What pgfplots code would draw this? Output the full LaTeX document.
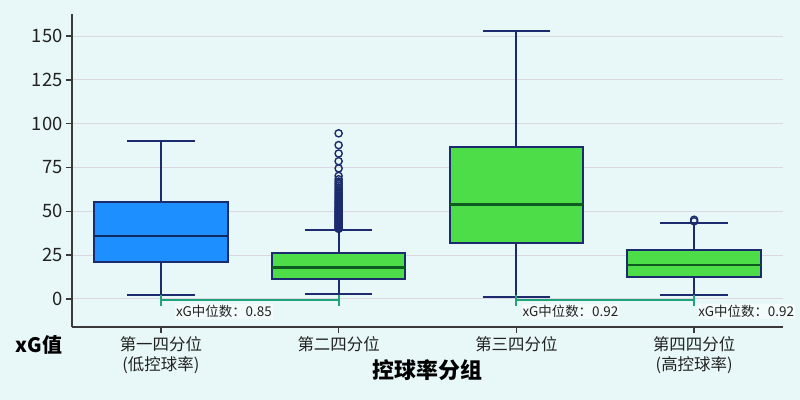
\documentclass[border=0pt]{standalone}
\usepackage{fontspec}
\setmainfont{Noto Sans CJK SC}
\usepackage{pgfplots}
\pgfplotsset{compat=1.18}
\usepgfplotslibrary{statistics}

\definecolor{bg}{HTML}{E8F8F8}
\definecolor{gridc}{HTML}{DCD6E2}
\definecolor{spine}{HTML}{3A3A3A}
\definecolor{navy}{HTML}{1C2B6E}
\definecolor{boxblue}{HTML}{1E8FFF}
\definecolor{boxgreen}{HTML}{4DDD48}
\definecolor{medgreen}{HTML}{0F5A1F}
\definecolor{medblue}{HTML}{0D2B5C}
\definecolor{bracket}{HTML}{1FA37A}
\definecolor{txt}{HTML}{222222}

\pgfkeys{
  /pgfplots/boxplot/bx/.style={
    /pgfplots/boxplot/box extend=0.75,
    /pgfplots/boxplot/whisker extend=0.38,
    /pgfplots/boxplot/every box/.style={draw=navy, line width=2bp, fill=#1},
    /pgfplots/boxplot/every whisker/.style={draw=navy, line width=2bp},
    /pgfplots/boxplot/every median/.style={draw=medgreen, line width=2.8bp}
  }
}

\begin{document}
\begin{tikzpicture}
\fill[bg] (-72bp,-73bp) rectangle (728bp,327bp);
\begin{axis}[
  boxplot/draw direction=y,
  scale only axis, width=711bp, height=313bp,
  xmin=-0.5, xmax=3.5, ymin=-16, ymax=162.6,
  axis lines*=left, clip=false,
  axis line style={draw=spine, line width=1.6bp},
  xtick={0,1,2,3},
  xticklabels={{第一四分位\\(低控球率)}, 第二四分位, 第三四分位, {第四四分位\\(高控球率)}},
  xticklabel style={align=center, font=\fontsize{16.5}{20}\selectfont, text=txt},
  ytick={0,25,...,150},
  yticklabel style={font=\fontsize{18.5}{20}\selectfont, text=txt},
  /pgf/number format/assume math mode=true,
  tick align=outside, major tick length=6bp,
  tick style={draw=spine, line width=1.4bp},
  ymajorgrids, grid style={draw=gridc, line width=1bp},
  xlabel={控球率分组},
  xlabel style={font=\fontsize{22}{24}\selectfont\bfseries, at={(axis description cs:0.5,0)}, anchor=center, yshift=-43bp},
  ylabel={xG值},
  ylabel style={rotate=-90, font=\fontsize{20}{22}\selectfont\bfseries, at={(axis description cs:0,0)}, anchor=center, xshift=-33bp, yshift=-18bp},
]
% 第一四分位
\addplot[draw=navy, boxplot prepared={draw position=0, lower whisker=2.3, lower quartile=21.1,
  median=35.9, upper quartile=55.3, upper whisker=90.1, bx=boxblue,
  every median/.style={draw=medblue, line width=2.8bp}}] coordinates {};
% 第二四分位
\addplot[draw=navy, mark=o, mark size=3.6bp, mark options={draw=navy, line width=1.4bp},
  boxplot prepared={draw position=1, lower whisker=2.9, lower quartile=11.6,
  median=18.1, upper quartile=26.1, upper whisker=39.4, bx=boxgreen}]
  table[row sep=\\, y index=0] {v\\
  40.0\\ 40.5\\ 41.0\\ 41.5\\ 42.0\\ 42.5\\ 43.0\\ 43.5\\ 44.0\\ 44.5\\
  45.0\\ 45.5\\ 46.0\\ 46.5\\ 47.0\\ 47.5\\ 48.0\\ 48.5\\ 49.0\\ 49.5\\
  50.0\\ 50.6\\ 51.2\\ 51.8\\ 52.4\\ 53.0\\ 53.7\\ 54.4\\ 55.1\\ 55.8\\
  56.5\\ 57.3\\ 58.1\\ 58.9\\ 59.8\\ 60.7\\ 61.6\\ 62.6\\ 63.6\\ 64.7\\
  65.8\\ 67.0\\ 68.3\\ 70.2\\ 74.5\\ 78.6\\ 83.0\\ 87.8\\ 94.5\\
  };
% 第三四分位
\addplot[draw=navy, boxplot prepared={draw position=2, lower whisker=1.3, lower quartile=31.9,
  median=54.0, upper quartile=86.9, upper whisker=153.1, bx=boxgreen}] coordinates {};
% 第四四分位
\addplot[draw=navy, mark=o, mark size=3.6bp, mark options={draw=navy, line width=1.4bp},
  boxplot prepared={draw position=3, lower whisker=2.3, lower quartile=12.5,
  median=19.4, upper quartile=28.1, upper whisker=43.4, bx=boxgreen}]
  table[row sep=\\, y index=0] {v\\ 44.3\\ 45.2\\};

% median annotations
\draw[bracket, line width=2bp] (axis cs:0,2.5) -- (axis cs:0,-4) (axis cs:1,2.5) -- (axis cs:1,-4)
  (axis cs:0,-0.6) -- (axis cs:1,-0.6);
\draw[bracket, line width=2bp] (axis cs:2,2.5) -- (axis cs:2,-4) (axis cs:3,2.5) -- (axis cs:3,-4)
  (axis cs:2,-0.6) -- (axis cs:3,-0.6);
\node[anchor=west, inner sep=1bp, fill=white, fill opacity=0.5, text opacity=1, text=txt,
  font=\fontsize{13.5}{15}\selectfont] at (axis cs:0.079,-7.1) {xG中位数：0.85};
\node[anchor=west, inner sep=1bp, fill=white, fill opacity=0.5, text opacity=1, text=txt,
  font=\fontsize{13.5}{15}\selectfont] at (axis cs:2.028,-7.1) {xG中位数：0.92};
\node[anchor=west, inner sep=1bp, fill=white, fill opacity=0.5, text opacity=1, text=txt,
  font=\fontsize{13.5}{15}\selectfont] at (axis cs:3.017,-7.1) {xG中位数：0.92};
\end{axis}
\pgfresetboundingbox
\path (-72bp,-73bp) rectangle (728bp,327bp);
\end{tikzpicture}
\end{document}
